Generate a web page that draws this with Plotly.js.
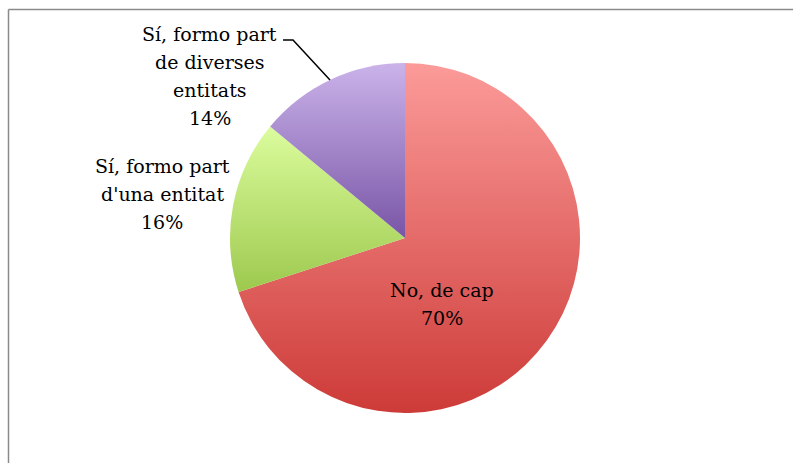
<!DOCTYPE html>
<html>
<head>
<meta charset="utf-8">
<script src="https://cdn.plot.ly/plotly-3.0.1.min.js"></script>
<style>
html,body{margin:0;padding:0;background:#fff;}
#chart{width:793px;height:463px;}
</style>
</head>
<body>
<div id="chart"></div>
<script>
// ---- data ----
const categories = ["No, de cap", "Sí, formo part d'una entitat", "Sí, formo part de diverses entitats"];
const values = [70, 16, 14];
const sliceColors = ["#E46C6A", "#BCDD7A", "#A58CCC"];
// gradient stops (top, bottom) per slice
const gradTop = ["#FB9B99", "#DBFC9D", "#CBB3EA"];
const gradBottom = ["#CD3B38", "#9DC94E", "#7855A6"];

const W = 793, H = 463;
const cx = 405, cy = 238, R = 175;

function wrap(s, n) {
  const words = s.split(" ");
  const lines = [];
  let cur = "";
  words.forEach(w => {
    if (cur && (cur + " " + w).length > n) { lines.push(cur); cur = w; }
    else cur = cur ? cur + " " + w : w;
  });
  if (cur) lines.push(cur);
  return lines;
}

const total = values.reduce((a, b) => a + b, 0);
// label block placement (center x, first line y) in pixels
const labelPos = [
  {x: 442, y: 290},
  {x: 162, y: 166},
  {x: 210, y: 34}
];
const lineGap = 28;
const annotations = [];
const font = {family: "DejaVu Serif, Liberation Serif, serif", size: 19, color: "#000"};
categories.forEach((c, i) => {
  const lines = wrap(c, 14).concat([Math.round(values[i] / total * 100) + "%"]);
  lines.forEach((ln, k) => {
    annotations.push({
      xref: "paper", yref: "paper",
      x: labelPos[i].x / W, y: 1 - (labelPos[i].y + k * lineGap) / H,
      text: ln, showarrow: false, font: font,
      xanchor: "center", yanchor: "middle"
    });
  });
});

const shapes = [
  // chart frame (left and top edges)
  {type: "line", xref: "paper", yref: "paper", x0: 8.5 / W, x1: 8.5 / W, y0: 0, y1: 1 - 9.5 / H,
   line: {color: "#8a8a8a", width: 1.5}},
  {type: "line", xref: "paper", yref: "paper", x0: 8.5 / W, x1: 1, y0: 1 - 9.5 / H, y1: 1 - 9.5 / H,
   line: {color: "#8a8a8a", width: 1.5}},
  // leader line for the third slice
  {type: "path", xref: "paper", yref: "paper",
   path: "M " + (283 / W) + "," + (1 - 40 / H) + " L " + (293 / W) + "," + (1 - 40 / H) + " L " + (330 / W) + "," + (1 - 80 / H),
   line: {color: "#000", width: 1.5}}
];

const trace = {
  type: "pie",
  labels: categories,
  values: values,
  sort: false,
  direction: "clockwise",
  rotation: 0,
  textinfo: "none",
  hoverinfo: "label+percent",
  marker: {colors: sliceColors, line: {width: 0}},
  domain: {x: [(cx - R) / W, (cx + R) / W], y: [(H - cy - R) / H, (H - cy + R) / H]},
  showlegend: false
};

const layout = {
  width: W, height: H,
  margin: {l: 0, r: 0, t: 0, b: 0},
  paper_bgcolor: "#fff",
  showlegend: false,
  annotations: annotations,
  shapes: shapes
};

Plotly.newPlot("chart", [trace], layout, {displayModeBar: false, staticPlot: true}).then(gd => {
  const svg = gd.querySelector("svg.main-svg");
  const ns = "http://www.w3.org/2000/svg";
  let defs = svg.querySelector("defs");
  if (!defs) { defs = document.createElementNS(ns, "defs"); svg.insertBefore(defs, svg.firstChild); }
  gradTop.forEach((t, i) => {
    const g = document.createElementNS(ns, "linearGradient");
    g.setAttribute("id", "sliceGrad" + i);
    g.setAttribute("x1", "0"); g.setAttribute("y1", "0");
    g.setAttribute("x2", "0"); g.setAttribute("y2", "1");
    [[0, t], [1, gradBottom[i]]].forEach(([o, col]) => {
      const s = document.createElementNS(ns, "stop");
      s.setAttribute("offset", o);
      s.setAttribute("stop-color", col);
      g.appendChild(s);
    });
    defs.appendChild(g);
  });
  gd.querySelectorAll("g.slice path.surface").forEach((p, i) => {
    p.style.fill = "url(#sliceGrad" + i + ")";
  });
});
</script>
</body>
</html>
